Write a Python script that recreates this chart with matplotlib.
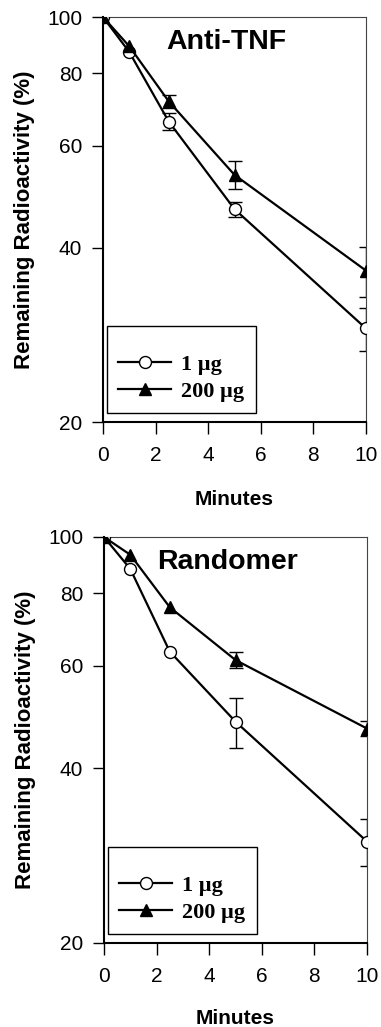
import numpy as np
import matplotlib.pyplot as plt
from matplotlib.ticker import FixedLocator, NullLocator, FixedFormatter

# data to plot
minutes = [0, 1, 2.5, 5, 10]
panels = ['Anti-TNF', 'Randomer']
series = ['1 \u00b5g', '200 \u00b5g']

tnf_1 = [100, 87.0, 66.0, 46.6, 29.0]
tnf_1_err = [np.nan, np.nan, 2.3, 1.4, 2.5]
tnf_200 = [100, 89.0, 71.5, 53.4, 36.5]
tnf_200_err = [np.nan, np.nan, 1.9, 3.0, 3.6]

ran_1 = [100, 88.1, 63.5, 48.1, 29.9]
ran_1_err = [np.nan, np.nan, np.nan, 4.7, 2.8]
ran_200 = [100, 93.2, 75.7, 61.4, 46.8]
ran_200_err = [np.nan, np.nan, np.nan, 1.9, 1.4]

yticks = [20, 40, 60, 80, 100]
xticks = [0, 2, 4, 6, 8, 10]

sans = 'Liberation Sans'
serif = 'Liberation Serif'

fig = plt.figure(figsize=(3.81, 10.27), dpi=100)
ax1 = fig.add_axes([103 / 381, 1 - 422 / 1027, 263 / 381, 405 / 1027])
ax2 = fig.add_axes([104 / 381, 1 - 943 / 1027, 263 / 381, 406 / 1027])

panel_data = [
    (ax1, panels[0], tnf_1, tnf_1_err, tnf_200, tnf_200_err, -0.205),
    (ax2, panels[1], ran_1, ran_1_err, ran_200, ran_200_err, -0.2),
]

for ax, name, y1, e1, y2, e2, xlab_y in panel_data:
    ax.errorbar(minutes, y1, yerr=e1, fmt='none', ecolor='black',
                elinewidth=1.0, capsize=4.7, capthick=1.0, zorder=2)
    ax.errorbar(minutes, y2, yerr=e2, fmt='none', ecolor='black',
                elinewidth=1.0, capsize=4.7, capthick=1.0, zorder=2)
    ax.plot(minutes, y1, color='black', lw=1.6, marker='o', ms=8.6,
            mfc='white', mec='black', mew=1.0, label=series[0], zorder=3)
    ax.plot(minutes, y2, color='black', lw=1.6, marker='^', ms=8.8,
            mfc='black', mec='black', label=series[1], zorder=4)

    ax.set_yscale('log')
    ax.set_ylim(20, 100)
    ax.set_xlim(0, 10)
    ax.yaxis.set_major_locator(FixedLocator(yticks))
    ax.yaxis.set_major_formatter(FixedFormatter([str(v) for v in yticks]))
    ax.yaxis.set_minor_locator(NullLocator())
    ax.set_xticks(xticks)

    ax.tick_params(axis='y', direction='out', length=8, width=1.0, pad=7,
                   labelsize=15)
    ax.tick_params(axis='x', direction='out', length=8.5, width=1.0, pad=9,
                   labelsize=15)
    for lab in ax.get_xticklabels() + ax.get_yticklabels():
        lab.set_family(sans)

    for s in ['left', 'bottom']:
        ax.spines[s].set_linewidth(1.5)
    for s in ['top', 'right']:
        ax.spines[s].set_linewidth(0.8)
        ax.spines[s].set_color('#444444')

    ax.set_ylabel('Remaining Radioactivity (%)', family=sans,
                  fontweight='bold', fontsize=16)
    ax.yaxis.set_label_coords(-0.258, 0.5)
    ax.set_xlabel('Minutes', family=sans, fontweight='bold', fontsize=15,
                  va='baseline')
    ax.xaxis.set_label_coords(0.5, xlab_y)

    ax.text(0.468, 0.92, name, transform=ax.transAxes, ha='center',
            va='baseline', family=sans, fontweight='bold', fontsize=20.5)

    # blank title gives the extra room above the first row, as in the original
    leg = ax.legend(loc='lower left', bbox_to_anchor=(0.015, 0.022),
                    borderaxespad=0, fancybox=False, edgecolor='black',
                    framealpha=1, handlelength=2.4, handletextpad=0.45,
                    labelspacing=0.3, borderpad=0.5,
                    title=' ', title_fontsize=7,
                    prop={'family': serif, 'weight': 'bold', 'size': 16})
    leg.get_frame().set_linewidth(1.0)

fig.savefig('out.png', dpi=100)
